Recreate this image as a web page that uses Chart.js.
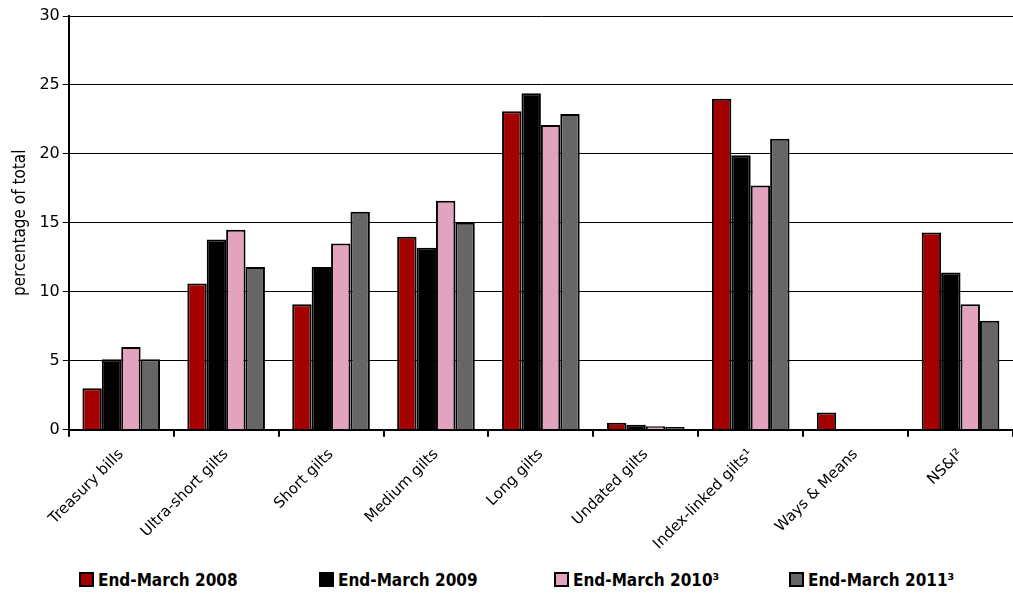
<!DOCTYPE html>
<html>
<head>
<meta charset="utf-8">
<script src="https://cdn.jsdelivr.net/npm/chart.js@4"></script>
<style>
  html, body { margin: 0; padding: 0; background: #fff; }
  #wrap { width: 1013px; height: 562px; position: relative; }
  #legend { position: absolute; top: 569px; left: 0; width: 1013px; height: 22px;
    font-family: "DejaVu Sans Condensed", sans-serif; font-size: 17px; font-weight: bold; color: #000; }
  .item { position: absolute; top: 0; white-space: nowrap; line-height: 22px; }
  .box { display: inline-block; width: 11px; height: 11px; border: 2px solid #000;
    vertical-align: -1px; margin-right: 4px; }
</style>
</head>
<body>
<div id="wrap"><canvas id="chart"></canvas></div>
<div id="legend"></div>
<script>
const categories = ["Treasury bills", "Ultra-short gilts", "Short gilts", "Medium gilts", "Long gilts",
  "Undated gilts", "Index-linked gilts\u00b9", "Ways & Means", "NS&I\u00b2"];
const seriesNames = ["End-March 2008", "End-March 2009", "End-March 2010\u00b3", "End-March 2011\u00b3"];
const march2008 = [3.0, 10.6, 9.1, 14.0, 23.1, 0.5, 24.0, 1.25, 14.3];
const march2009 = [5.1, 13.8, 11.8, 13.2, 24.4, 0.35, 19.9, 0.05, 11.4];
const march2010 = [6.0, 14.5, 13.5, 16.6, 22.1, 0.25, 17.7, 0.05, 9.1];
const march2011 = [5.1, 11.8, 15.8, 15.0, 22.9, 0.2, 21.1, 0.05, 7.9];
const yTicks = [0, 5, 10, 15, 20, 25, 30];

const colors = ["#a50000", "#000000", "#e3a3bf", "#666666"];
const values = [march2008, march2009, march2010, march2011];
const legendLeft = [79, 319, 554, 789];

const datasets = values.map((v, i) => ({
  label: seriesNames[i],
  data: v,
  backgroundColor: colors[i],
  borderColor: "#000000",
  borderWidth: 2,
  borderSkipped: "bottom",
  categoryPercentage: 0.74,
  barPercentage: 1.0,
}));

// legend below the chart, spread out like the original
const legend = document.getElementById("legend");
seriesNames.forEach((name, i) => {
  const item = document.createElement("div");
  item.className = "item";
  item.style.left = legendLeft[i] + "px";
  const box = document.createElement("span");
  box.className = "box";
  box.style.background = colors[i];
  item.appendChild(box);
  item.appendChild(document.createTextNode(name));
  legend.appendChild(item);
});

const ctx = document.getElementById("chart").getContext("2d");
new Chart(ctx, {
  type: "bar",
  data: { labels: categories, datasets: datasets },
  options: {
    responsive: true,
    maintainAspectRatio: false,
    animation: false,
    layout: { padding: { top: 16, right: 0, left: 6, bottom: 0 } },
    scales: {
      x: {
        offset: true,
        grid: {
          offset: true,
          drawOnChartArea: false,
          color: "#000",
          tickLength: 7,
          lineWidth: 2,
        },
        border: { color: "#000", width: 2 },
        ticks: {
          color: "#000",
          maxRotation: 45,
          minRotation: 45,
          font: { family: "DejaVu Sans", size: 15 },
          padding: 9,
        },
      },
      y: {
        min: 0,
        max: 30,
        afterBuildTicks: (axis) => { axis.ticks = yTicks.map((v) => ({ value: v })); },
        grid: { color: "#000", lineWidth: 1, tickLength: 6 },
        border: { color: "#000", width: 2 },
        ticks: {
          color: "#000",
          font: { family: "DejaVu Sans", size: 16 },
          padding: 3,
        },
        title: {
          display: true,
          text: "percentage of total",
          color: "#000",
          font: { family: "DejaVu Sans Condensed", size: 17 },
          padding: { bottom: 6 },
        },
      },
    },
    plugins: {
      legend: { display: false },
      tooltip: { enabled: false },
    },
  },
});
</script>
</body>
</html>
